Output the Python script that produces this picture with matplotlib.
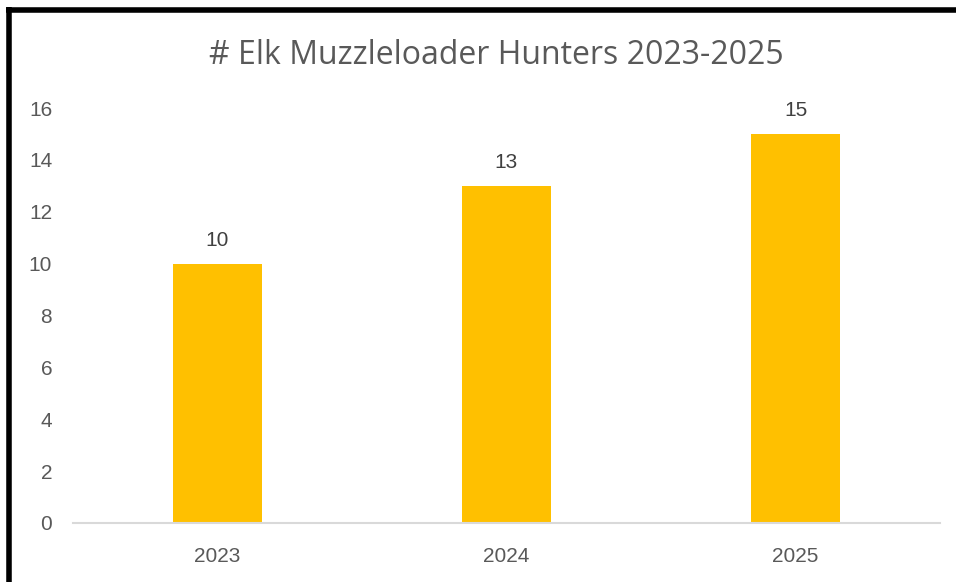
import matplotlib.pyplot as plt
from matplotlib.lines import Line2D

years = ['2023', '2024', '2025']
hunters = [10, 13, 15]
yticks = [0, 2, 4, 6, 8, 10, 12, 14, 16]

plt.rcParams['font.family'] = ['Liberation Sans', 'DejaVu Sans']

W, H = 956, 582
fig = plt.figure(figsize=(W / 100, H / 100), dpi=100)
ax = fig.add_axes([73 / W, 1 - 523 / H, 867 / W, (523 - 108) / H])

bars = ax.bar(years, hunters, width=0.31, color='#FFC000')
for b, v in zip(bars, hunters):
    ax.annotate(str(v), (b.get_x() + b.get_width() / 2, v), xytext=(0, 10),
                textcoords='offset points', ha='center', va='bottom',
                fontsize=15, color='#404040')

ax.set_xlim(-0.5, 2.5)
ax.set_ylim(0, 16)
ax.set_yticks(yticks)
for s in ['top', 'right', 'left']:
    ax.spines[s].set_visible(False)
ax.spines['bottom'].set_color('#d9d9d9')
ax.spines['bottom'].set_linewidth(1.5)
ax.tick_params(axis='both', length=0, labelsize=15, labelcolor='#595959')
ax.tick_params(axis='y', pad=15)
ax.tick_params(axis='x', pad=17)

# title
fig.text(496 / W, 1 - 64 / H, '# Elk Muzzleloader Hunters 2023-2025', ha='center',
         va='baseline', fontsize=23, color='#595959', family=['Open Sans', 'DejaVu Sans'])

# black frame on top and left
fig.add_artist(Line2D([6 / W, 1], [1 - 9.5 / H, 1 - 9.5 / H], color='black', lw=4,
                      solid_capstyle='butt'))
fig.add_artist(Line2D([9 / W, 9 / W], [1 - 7 / H, 0], color='black', lw=4,
                      solid_capstyle='butt'))

fig.savefig('out.png', dpi=100)
